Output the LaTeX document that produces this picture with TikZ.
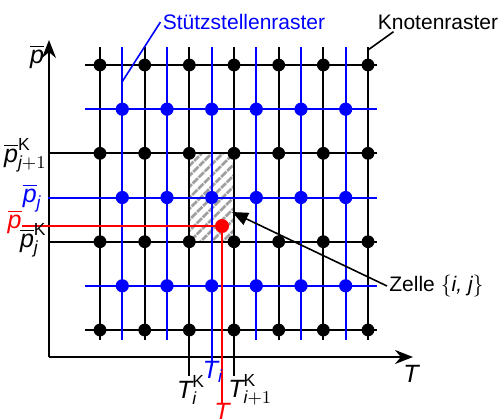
\documentclass[tikz,border=0pt]{standalone}
\usepackage{amsmath}
\usepackage{fontspec}
\setmainfont{Liberation Sans}
\usetikzlibrary{arrows.meta,patterns.meta}

\newcommand{\pquer}{\overline{\text{\itshape p}}}
\newcommand{\Tvar}{\text{\itshape T}}

\begin{document}
\begin{tikzpicture}[x=0.5pt, y=-0.5pt,
  every node/.style={font=\fontsize{10.5}{12.6}\selectfont, inner sep=1pt},
  knot/.style={line width=1pt, draw=black},
  stuetz/.style={line width=1pt, draw=blue},
  redline/.style={line width=1pt, draw=red},
  axis/.style={line width=1pt, -{Stealth[length=9pt,width=7pt]}},
  pointer/.style={line width=0.8pt},
  lbl/.style={font=\fontsize{12.5}{14}\selectfont, inner sep=0pt}
]
  \useasboundingbox (0,0) rectangle (502,418);

  % Zelle {i,j}
  \fill[pattern={Lines[angle=45,distance=4pt,line width=1.5pt]}, pattern color=gray!75] (189.3,153.3) rectangle (234,241.7);

  % Achsen
  \coordinate (origin) at (49,357);
  \draw[axis] (origin) -- (413,357);
  \draw[axis] (origin) -- (49,40);
  \node[lbl] (paxis) at (37,57) {$\pquer$};
  \node[lbl] (Taxis) at (411,374) {$\Tvar$};

  % Knotenraster
  \foreach \y in {65,153.3,241.7,330}
    \draw[knot] (85,\y) -- (377,\y);
  \foreach \x in {100,144.7,189.3,234,278.7,323.3,368}
    \draw[knot] (\x,47) -- (\x,340);
  % Stuetzstellenraster
  \foreach \y in {109.2,197.5,285.8}
    \draw[stuetz] (85,\y) -- (377,\y);
  \foreach \x in {122.3,167,211.7,256.3,301,345.7}
    \draw[stuetz] (\x,47) -- (\x,340);

  % Verlaengerungen zu den Achsen
  \draw[knot] (48,153.3) -- (85,153.3);
  \draw[knot] (48,241.7) -- (85,241.7);
  \draw[stuetz] (48,197.5) -- (85,197.5);
  \draw[knot] (189.3,340) -- (189.3,376);
  \draw[knot] (234,340) -- (234,376);
  \draw[stuetz] (211.7,340) -- (211.7,366);

  \foreach \y in {65,153.3,241.7,330}
    \foreach \x in {100,144.7,189.3,234,278.7,323.3,368}
      \fill[black] (\x,\y) circle (3.2pt);
  \foreach \y in {109.2,197.5,285.8}
    \foreach \x in {122.3,167,211.7,256.3,301,345.7}
      \fill[blue] (\x,\y) circle (3.3pt);

  % Betriebspunkt
  \node[lbl, text=red, anchor=east] (pred) at (22,222) {$\pquer$};
  \node[lbl, text=red] (Tred) at (222,412) {$\Tvar$};
  \coordinate (op) at (222,226);
  \draw[redline] (pred.east |- op) -- (op);
  \draw[redline] (op) -- (Tred.north);
  \fill[red] (op) circle (3.5pt);

  % Achsbeschriftungen
  \node[lbl, anchor=east] (pK1) at (47,155) {$\pquer^{\text{K}}_{\text{\itshape j}+1}$};
  \node[lbl, anchor=east, text=blue] (pj) at (42,198) {$\pquer_{\text{\itshape j}}$};
  \node[lbl, anchor=east] (pK) at (47,240) {$\pquer^{\text{K}}_{\text{\itshape j}}$};
  \node[lbl] (TK) at (191,390) {$\Tvar^{\text{K}}_{\text{\itshape i}}$};
  \node[lbl, text=blue] (Ti) at (213,372) {$\Tvar_{\text{\itshape i}}$};
  \node[lbl, anchor=west] (TK1) at (228,390) {$\Tvar^{\text{K}}_{\text{\itshape i}+1}$};

  % Legende
  \node[text=blue] (stuetzlabel) at (244,22) {Stützstellenraster};
  \node (knotenlabel) at (438,22) {Knotenraster};
  \node[anchor=west] (zelle) at (387,286) {Zelle $\{\text{\itshape i, j}\}$};
  \coordinate (sp) at (122,82);
  \coordinate (kp) at (368,50);
  \coordinate (cp) at (232,212);
  \draw[pointer, blue] (stuetzlabel.west) -- (sp);
  \draw[pointer] ([xshift=9pt]knotenlabel.south west) -- (kp);
  \draw[pointer, -{Triangle[length=8pt,width=6.5pt]}] (zelle.west) -- (cp);
\end{tikzpicture}
\end{document}
